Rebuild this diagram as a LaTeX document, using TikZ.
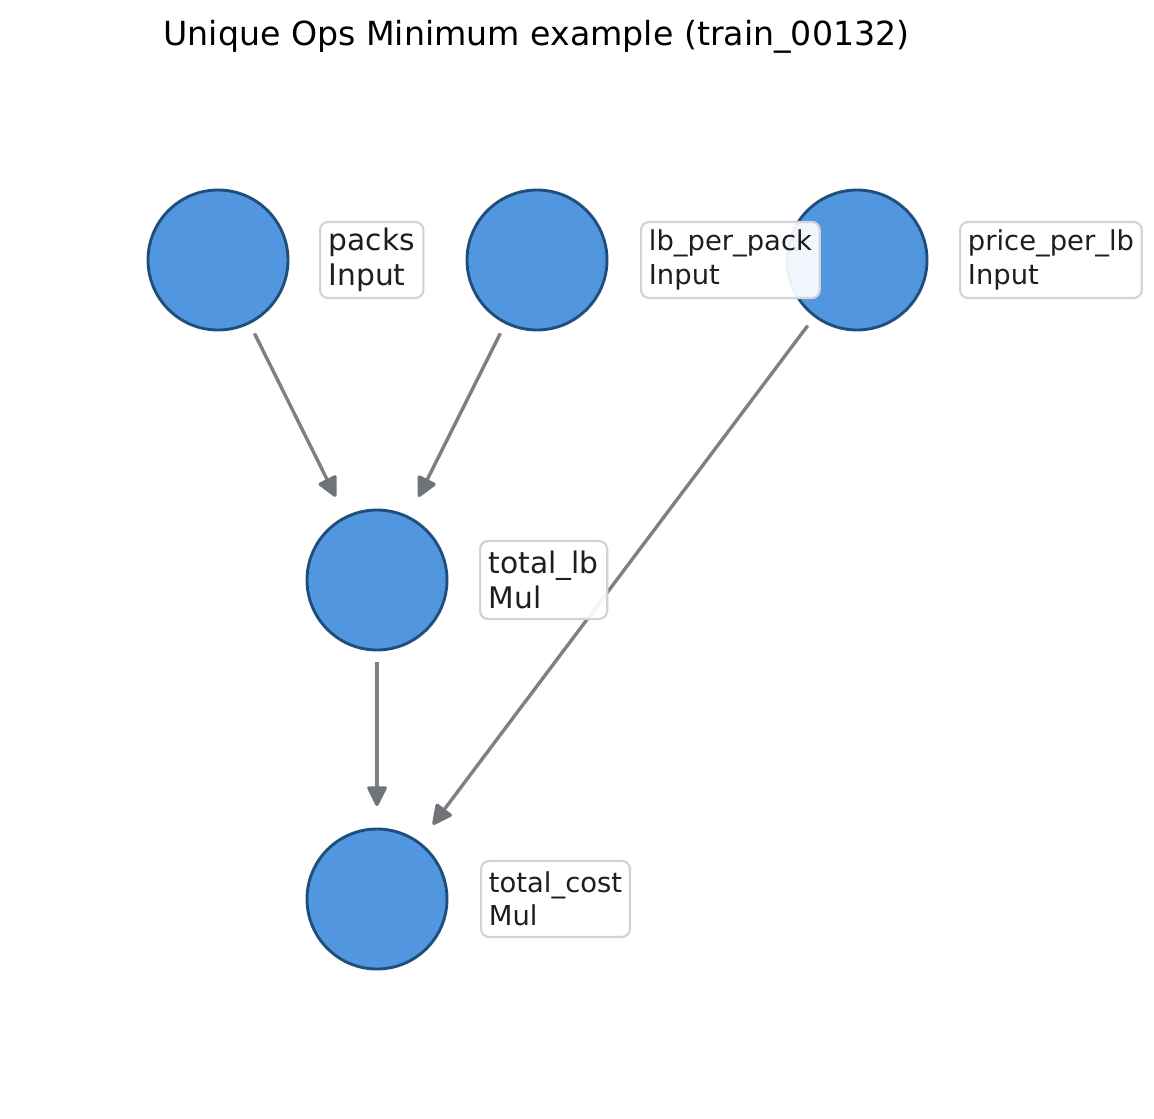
\documentclass[tikz,border=0pt]{standalone}
\usepackage{fontspec}
\setmainfont{DejaVu Sans}
\usetikzlibrary{arrows.meta}
\definecolor{nodefill}{RGB}{82,150,224}
\definecolor{nodeline}{RGB}{31,78,124}
\definecolor{edgec}{RGB}{128,128,130}
\definecolor{headc}{RGB}{112,115,119}
\definecolor{boxline}{RGB}{208,211,218}
\definecolor{txt}{RGB}{30,30,30}
\tikzset{
  opnode/.style={circle, minimum size=70pt, inner sep=0pt, outer sep=0pt,
    fill=nodefill, draw=nodeline, line width=1.45pt},
  lblbig/.style={anchor=west, draw=boxline, line width=1.1pt, fill=white, fill opacity=0.92,
    text opacity=1, rounded corners=4pt, align=left, inner xsep=4.3pt, inner ysep=0pt,
    minimum height=38pt, text=txt, font=\fontsize{14.85pt}{17.2pt}\selectfont},
  lblsmall/.style={lblbig, inner xsep=3.9pt, font=\fontsize{13.7pt}{16.7pt}\selectfont},
  edge/.style={draw=edgec, line width=1.7pt, shorten <=6pt, shorten >=11.5pt,
    -{Triangle[length=11pt,width=10.5pt,round,color=headc,fill=headc]}}
}
\begin{document}
\begin{tikzpicture}[x=0.5pt, y=-0.5pt]
\useasboundingbox (0,0) rectangle (1154,1118);
\node[font=\fontsize{16.6pt}{20pt}\selectfont, anchor=base] (title) at (536.5,46) {Unique Ops Minimum example (train\_00132)};
% circles
\node[opnode] (packs) at (218,260) {};
\node[opnode] (lbpp) at (537,260) {};
\node[opnode] (ppl) at (857,260) {};
\node[opnode] (tlb) at (377,580) {};
\node[opnode] (tc) at (377,899) {};
% edges
\draw[edge] (packs) -- (tlb);
\draw[edge] (lbpp) -- (tlb);
\draw[edge] (ppl) -- (tc);
\draw[edge] (tlb) -- (tc);
% labels
\node[lblbig] (packsl) at (319,260) {packs\\Input};
\node[lblsmall] (lbppl) at (640,260) {lb\_per\_pack\\Input};
\node[lblsmall] (ppll) at (959,260) {price\_per\_lb\\Input};
\node[lblbig, minimum height=39pt] (tlbl) at (479,580) {total\_lb\\Mul};
\node[lblsmall] (tcl) at (480,899) {total\_cost\\Mul};
\end{tikzpicture}
\end{document}
